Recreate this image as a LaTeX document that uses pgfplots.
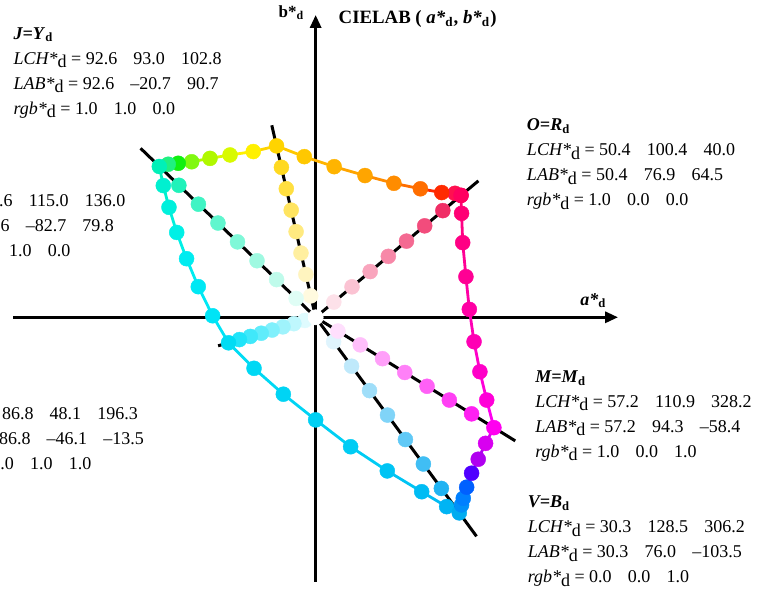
\documentclass[border=0pt]{standalone}
\usepackage{pgfplots}
\usepackage{pgfplotstable}
\pgfplotsset{compat=1.18}
\usetikzlibrary{arrows.meta}
\usepackage{fontspec}
\setmainfont{Liberation Serif}

% hexagon of device colours, in order R-Y-G-C-B-M-R; c = RGB of the point
\pgfplotstableread{
a b c
76.9 64.5 255,0,96
73.7 65.6 255,16,80
66.7 66.0 255,42,0
55.4 68.0 255,110,0
41.4 70.9 255,140,0
26.1 75.0 255,165,0
9.8 79.7 255,180,0
-6.0 85.0 255,200,0
-20.7 90.7 255,212,0
-33.0 87.7 255,240,0
-45.3 85.9 216,250,0
-55.9 84.1 176,248,0
-65.6 82.3 128,248,16
-72.7 81.5 16,240,16
-78.0 81.0 32,240,128
-82.7 79.8 0,240,184
-80.6 69.7 0,240,208
-77.6 58.2 0,240,220
-73.5 44.9 0,240,230
-68.3 31.0 0,236,240
-62.1 16.2 0,232,244
-54.5 0.8 0,228,246
-46.1 -13.5 0,220,244
-32.6 -27.0 0,216,244
-17.1 -40.7 0,212,244
0.0 -54.3 0,208,244
18.5 -68.5 0,204,244
37.9 -81.3 0,196,244
56.1 -92.3 0,188,244
69.3 -100.2 0,180,244
76.0 -103.5 0,172,240
77.2 -99.3 0,144,248
78.1 -95.8 0,128,255
79.9 -89.9 0,96,255
82.5 -82.5 80,0,255
86.0 -75.1 176,0,240
89.9 -66.7 216,0,240
94.3 -58.4 255,0,240
90.5 -43.8 255,0,216
86.9 -28.8 255,0,200
83.8 -12.9 255,0,180
81.3 4.2 255,0,164
79.5 21.5 255,0,148
77.8 39.5 255,0,132
77.2 55.0 255,0,116
76.9 64.5 255,0,96
}\ring

% series from white to each vertex
\pgfplotstableread{
a b c
9.61 8.06 253,225,233
19.23 16.13 251,195,211
28.84 24.19 249,165,189
38.45 32.25 247,136,168
48.06 40.31 244,106,146
57.68 48.38 242,76,124
67.29 56.44 240,46,102
-2.59 11.34 255,250,223
-5.18 22.68 255,244,191
-7.76 34.01 255,239,159
-10.35 45.35 255,234,128
-12.94 56.69 255,228,96
-15.53 68.03 255,223,64
-18.11 79.36 255,217,32
-10.34 9.98 223,253,245
-20.68 19.95 191,251,235
-31.01 29.93 159,249,225
-41.35 39.90 128,248,216
-51.69 49.88 96,246,206
-62.03 59.85 64,244,196
-72.36 69.83 32,242,186
-5.76 -1.69 223,251,254
-11.53 -3.38 191,247,253
-17.29 -5.06 159,243,252
-23.05 -6.75 128,240,252
-28.81 -8.44 96,236,251
-34.58 -10.13 64,232,250
-40.34 -11.81 32,228,249
9.50 -12.94 223,244,253
19.00 -25.88 191,233,251
28.50 -38.81 159,222,249
38.00 -51.75 128,212,248
47.50 -64.69 96,201,246
57.00 -77.63 64,190,244
66.50 -90.56 32,179,242
11.79 -7.30 255,223,253
23.58 -14.60 255,191,251
35.36 -21.90 255,159,249
47.15 -29.20 255,128,248
58.94 -36.50 255,96,246
70.73 -43.80 255,64,244
82.51 -51.10 255,32,242
}\radpts

\pgfplotsset{
  rgbdots/.style={only marks, mark=*, mark size=3.75bp,
    mark options={line width=0.2bp},
    scatter, point meta=explicit symbolic,
    scatter/@pre marker code/.code={%
      \edef\tmp{\noexpand\definecolor{mk}{RGB}{\pgfplotspointmeta}}\tmp
      \scope[draw=mk,fill=mk]},
    scatter/@post marker code/.code={\endscope}},
}
\tikzset{info/.style={anchor=base west, inner sep=0pt, font=\fontsize{9bp}{11bp}\selectfont}}

\newcommand{\gap}{\hspace{0.9em}}
\newcommand{\dd}{\raisebox{-0.4ex}{d}}
\newcommand{\hd}[2]{\textbf{\textit{#1=#2}}\textsubscript{\textbf{d}}}
\newcommand{\infoblock}[6]{%
  \node[info] at (axis cs:#1,#2) {#3};
  \node[info,yshift=-12.5bp] at (axis cs:#1,#2) {\textit{LCH*}\dd{} = #4};
  \node[info,yshift=-25bp] at (axis cs:#1,#2) {\textit{LAB*}\dd{} = #5};
  \node[info,yshift=-37.5bp] at (axis cs:#1,#2) {\textit{rgb*}\dd{} = #6};
}

\begin{document}
\begin{tikzpicture}
\begin{axis}[
  scale only axis, width=378.5bp, height=300bp,
  xmin=-167.0, xmax=233.5, ymin=-149.6, ymax=167.9,
  axis lines=none, clip=false,
]
% a*, b* axes
\addplot[black, line width=1.5bp, -{Triangle[length=6.5bp,width=5.5bp]}] coordinates {(-160,0) (160,0)};
\addplot[black, line width=1.5bp, -{Triangle[length=6.5bp,width=5.5bp]}] coordinates {(0,-140) (0,160)};

% lines from the centre through the six vertices
\addplot[black, line width=1.5bp] coordinates {(0,0) (86.1,72.2)};
\addplot[black, line width=1.5bp] coordinates {(0,0) (-23.2,101.6)};
\addplot[black, line width=1.5bp] coordinates {(0,0) (-92.6,89.4)};
\addplot[black, line width=1.5bp] coordinates {(0,0) (-51.6,-15.1)};
\addplot[black, line width=1.5bp] coordinates {(0,0) (85.1,-115.9)};
\addplot[black, line width=1.5bp] coordinates {(0,0) (105.6,-65.4)};

% coloured hexagon edges, one segment per pair of neighbours
\pgfplotsinvokeforeach{0,...,44}{%
  \pgfplotstablegetelem{#1}{a}\of\ring \let\xa\pgfplotsretval
  \pgfplotstablegetelem{#1}{b}\of\ring \let\ya\pgfplotsretval
  \pgfplotstablegetelem{#1}{c}\of\ring \let\ca\pgfplotsretval
  \pgfmathtruncatemacro\nx{#1+1}%
  \pgfplotstablegetelem{\nx}{a}\of\ring \let\xb\pgfplotsretval
  \pgfplotstablegetelem{\nx}{b}\of\ring \let\yb\pgfplotsretval
  \edef\tmp{\noexpand\definecolor{sg#1}{RGB}{\ca}%
    \noexpand\addplot[draw=sg#1, line width=1.4bp, forget plot] coordinates {(\xa,\ya) (\xb,\yb)};}%
  \tmp
}

\addplot[rgbdots] table[x=a, y=b, meta=c] {\radpts};
\addplot[rgbdots] table[x=a, y=b, meta=c] {\ring};
\addplot[only marks, mark=*, mark size=3.75bp, white] coordinates {(0,0)};

% texts
\node[anchor=base west, inner sep=0pt, font=\fontsize{9.4bp}{11bp}\selectfont\bfseries]
  at (axis cs:12.0,155.6) {CIELAB ( \textit{a*}\textsubscript{d}, \textit{b*}\textsubscript{d})};
\node[anchor=base west, inner sep=0pt, font=\fontsize{8.5bp}{10bp}\selectfont\bfseries]
  at (axis cs:-19.8,158.9) {b*\textsubscript{d}};
\node[anchor=base west, inner sep=0pt, font=\fontsize{9bp}{10bp}\selectfont\bfseries]
  at (axis cs:139.8,6.5) {\textit{a*}\textsubscript{d}};

\infoblock{-160.0}{147.2}{\hd{J}{Y}}{92.6\gap 93.0\gap 102.8}{92.6\gap\textendash20.7\gap 90.7}{1.0\gap 1.0\gap 0.0}
\infoblock{-215.4}{71.6}{\hd{L}{G}}{83.6\gap 115.0\gap 136.0}{83.6\gap\textendash82.7\gap 79.8}{0.0\gap 1.0\gap 0.0}
\infoblock{-204.3}{-41.1}{\hd{C}{C}}{86.8\gap 48.1\gap 196.3}{86.8\gap\textendash46.1\gap\textendash13.5}{0.0\gap 1.0\gap 1.0}
\infoblock{111.6}{98.7}{\hd{O}{R}}{50.4\gap 100.4\gap 40.0}{50.4\gap 76.9\gap 64.5}{1.0\gap 0.0\gap 0.0}
\infoblock{116.0}{-34.6}{\hd{M}{M}}{57.2\gap 110.9\gap 328.2}{57.2\gap 94.3\gap\textendash58.4}{1.0\gap 0.0\gap 1.0}
\infoblock{112.0}{-100.9}{\hd{V}{B}}{30.3\gap 128.5\gap 306.2}{30.3\gap 76.0\gap\textendash103.5}{0.0\gap 0.0\gap 1.0}
\end{axis}
\pgfresetboundingbox
\path[use as bounding box] (current axis.south west) rectangle (current axis.north east);
\end{tikzpicture}
\end{document}
